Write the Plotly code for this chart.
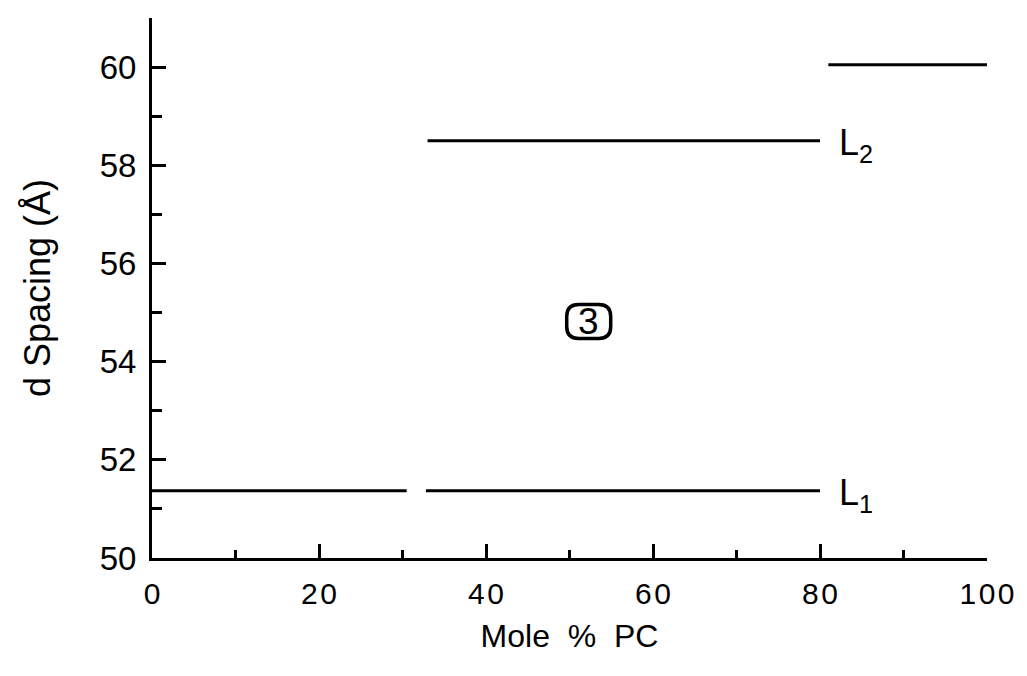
import plotly.graph_objects as go

# Phase-boundary segments (Mole % PC start/end, d spacing)
seg_names = ["L1a", "L1b", "L2", "top"]
seg_x0 = [0, 32.8, 33.0, 81.0]
seg_x1 = [30.5, 80.0, 80.0, 100.0]
seg_y = [51.37, 51.37, 58.5, 60.05]

labels_text = ["L<sub>1</sub>", "L<sub>2</sub>"]
labels_x = [82.0, 82.0]
labels_y = [51.37, 58.5]

region_label = "3"
region_x = 52.3
region_y = 54.82

x_tickvals = [0, 20, 40, 60, 80, 100]
x_ticktext = ["0", "2\u200a0", "4\u200a0", "6\u200a0", "8\u200a0", "1\u200a0\u200a0"]
y_tickvals = [50, 52, 54, 56, 58, 60]

FONT = "Liberation Sans"

fig = go.Figure()
for n, a, b, y in zip(seg_names, seg_x0, seg_x1, seg_y):
    fig.add_trace(go.Scatter(x=[a, b], y=[y, y], mode="lines",
                             line=dict(color="black", width=3), name=n,
                             showlegend=False, hoverinfo="skip"))

for t, x, y in zip(labels_text, labels_x, labels_y):
    fig.add_annotation(x=x, y=y, text=t, showarrow=False, xanchor="left",
                       yanchor="middle", yshift=-4,
                       font=dict(size=36, color="black", family=FONT))

rr = ("M -10,-17 L 10,-17 Q 22,-17 22,-5 L 22,5 Q 22,17 10,17 "
      "L -10,17 Q -22,17 -22,5 L -22,-5 Q -22,-17 -10,-17 Z")
fig.add_shape(type="path", xref="x", yref="y", xsizemode="pixel",
              ysizemode="pixel", xanchor=region_x, yanchor=region_y,
              path=rr, line=dict(color="black", width=3.5))
fig.add_annotation(x=region_x, y=region_y, text=region_label, showarrow=False,
                   font=dict(size=37, color="black", family=FONT))

fig.update_layout(
    width=1027, height=676,
    margin=dict(l=152, r=37, t=18, b=118),
    plot_bgcolor="white", paper_bgcolor="white",
    font=dict(family=FONT, color="black"),
    xaxis=dict(range=[0, 100], tickvals=x_tickvals, ticktext=x_ticktext,
               showgrid=False, zeroline=False, showline=True,
               linecolor="black", linewidth=3,
               ticks="inside", ticklen=14, tickwidth=3, tickcolor="black",
               minor=dict(dtick=10, tick0=0, ticks="inside", ticklen=8,
                          tickwidth=3, tickcolor="black", showgrid=False),
               tickfont=dict(size=30), ticklabelstandoff=7,
               title=dict(text="Mole  %  PC", font=dict(size=32), standoff=16)),
    yaxis=dict(range=[50, 61], tickvals=y_tickvals,
               showgrid=False, zeroline=False, showline=True,
               linecolor="black", linewidth=3,
               ticks="inside", ticklen=14, tickwidth=3, tickcolor="black",
               minor=dict(dtick=1, tick0=50, ticks="inside", ticklen=10,
                          tickwidth=3, tickcolor="black", showgrid=False),
               tickfont=dict(size=33), ticklabelstandoff=6,
               title=dict(text="d Spacing (Å)", font=dict(size=36), standoff=39)),
)

fig.write_html("out.html")
